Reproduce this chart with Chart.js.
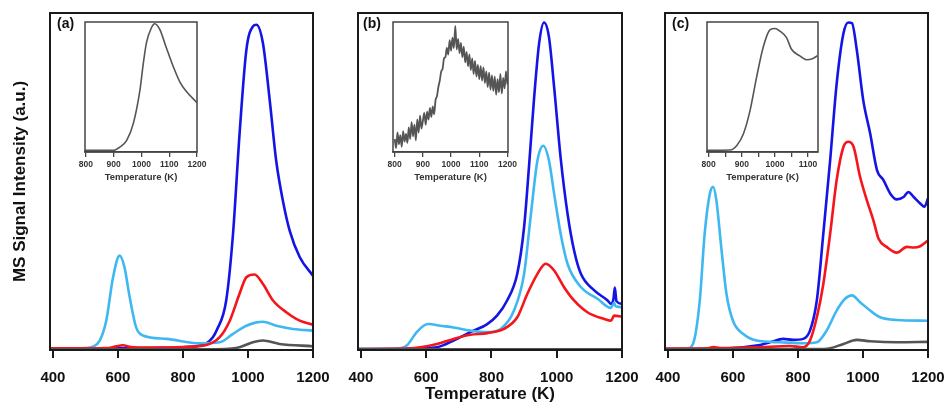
<!DOCTYPE html>
<html>
<head>
<meta charset="utf-8">
<script src="https://cdn.jsdelivr.net/npm/chart.js@4.4.1/dist/chart.umd.min.js"></script>
<style>
  body { margin: 0; background: #fff; }
  #wrap { position: relative; width: 945px; height: 405px; overflow: hidden; }
  canvas { position: absolute; left: 0; top: 0; }
  .tag { position: absolute; top: 15px; font: bold 14px "Liberation Sans", Arial, sans-serif; color: #111; }
</style>
</head>
<body>
<div id="wrap">
  <canvas id="mainA" width="945" height="405"></canvas>
  <canvas id="mainB" width="945" height="405"></canvas>
  <canvas id="mainC" width="945" height="405"></canvas>
  <canvas id="insetA" width="945" height="405"></canvas>
  <canvas id="insetB" width="945" height="405"></canvas>
  <canvas id="insetC" width="945" height="405"></canvas>
  <div class="tag" style="left:57px">(a)</div>
  <div class="tag" style="left:363px">(b)</div>
  <div class="tag" style="left:672px">(c)</div>
</div>
<script>
// tick labels
const mainTicks = [400, 600, 800, 1000, 1200];
const insetTicksAB = [800, 900, 1000, 1100, 1200];
const insetTicksC = [800, 850, 900, 950, 1000, 1050, 1100];

// panel (a)  [temperature K, signal a.u.]
const aGray = [[391,0.2],[900,0.2],[950,0.4],[974,0.8],[1015,2.3],[1046,2.8],[1097,1.8],[1200,1.1]];
const aRed = [[391,0.5],[570,0.6],[595,1.1],[615,1.4],[640,0.9],[700,0.7],[800,0.9],[872,1.5],[913,3.8],[944,8.7],[974,16.7],[995,21.6],[1020,22.4],[1046,19.6],[1077,14.7],[1118,11.2],[1159,8.7],[1200,7.5]];
const aLight = [[391,0.5],[500,0.6],[523,1.0],[544,2.8],[564,8.7],[585,21.6],[605,28],[620,24.6],[636,15.7],[656,6.7],[677,4.3],[749,3.3],[851,2.0],[913,2.3],[954,4.8],[995,7.2],[1026,8.2],[1046,8.4],[1087,7.2],[1138,6.25],[1200,5.75]];
const aBlue = [[391,0.4],[600,0.5],[700,0.6],[800,0.8],[851,1.3],[872,2],[892,3.8],[903,5.7],[933,14.7],[954,34.5],[974,64],[995,89],[1015,96],[1026,96.5],[1046,91],[1067,74],[1087,56],[1108,44],[1128,35.5],[1159,27.6],[1200,22]];
const aInset = [[797,1.3],[899,1.3],[923,3.9],[947,9],[971,22],[995,48],[1007,68.5],[1018,84],[1036,95.6],[1048,98.7],[1066,94.3],[1090,80],[1114,66],[1138,54],[1162,46.5],[1200,38]];

// panel (b)
const bGray = [[391,0.2],[1200,0.2]];
const bRed = [[391,0.3],[530,0.4],[582,0.8],[633,1.8],[684,3.3],[735,4.5],[787,5],[838,6.25],[879,9.7],[910,16.7],[941,22.6],[966,25.6],[992,23.6],[1022,18.7],[1053,14.7],[1094,11.2],[1146,9.2],[1166,8.7],[1176,10.2],[1200,9.9]];
const bLight = [[391,0.3],[510,0.4],[540,1.3],[571,5.3],[592,7.2],[607,7.7],[643,7.2],[684,6.7],[735,5.75],[787,5.3],[828,6.25],[869,11.7],[900,22.6],[920,39.5],[941,56.3],[959,60.6],[976,56.3],[992,46.4],[1012,34.5],[1033,25.6],[1074,18.7],[1125,15.2],[1166,12.5],[1176,14],[1180,13],[1200,12.7]];
const bBlue = [[391,0.3],[530,0.3],[582,0.5],[633,0.8],[684,2.8],[735,5.3],[787,7.7],[817,10.2],[848,14.7],[879,22.6],[900,36.5],[915,54.4],[930,74],[946,91],[961,97.2],[976,93],[992,78],[1012,57],[1033,40.5],[1053,29.6],[1074,22.6],[1115,17.7],[1156,14.7],[1166,13.7],[1174,15.2],[1178,18.5],[1183,14.5],[1200,13.7]];
const bInsetT = [800,805,810,815,820,825,830,835,840,845,850,855,860,865,870,875,880,885,890,895,900,905,910,915,920,925,930,935,940,945,950,955,960,965,970,975,980,985,990,995,1000,1005,1010,1015,1020,1025,1030,1035,1040,1045,1050,1055,1060,1065,1070,1075,1080,1085,1090,1095,1100,1105,1110,1115,1120,1125,1130,1135,1140,1145,1150,1155,1160,1165,1170,1175,1180,1185,1190,1195,1200];
const bInsetY = [10,3,15,6,13,4,16,8,14,7,19,10,23,12,21,9,25,15,28,18,24,30,21,31,25,34,27,35,29,40,43,50,55,62,64,72,73,80,75,86,78,88,80,97,79,87,76,84,73,81,69,77,66,75,63,72,60,70,58,67,56,66,55,65,53,62,50,61,48,59,47,58,44,56,46,60,45,57,49,62,52];

// panel (c)
const cGray = [[391,0.2],[880,0.3],[899,0.5],[940,1.8],[981,3.0],[1022,2.6],[1104,2.3],[1200,2.4]];
const cRed = [[391,0.4],[520,0.5],[540,0.9],[560,0.6],[672,0.8],[775,1.2],[816,0.8],[837,2.8],[858,9.7],[878,19.6],[899,34.5],[919,50.4],[940,60.3],[955,61.8],[971,60.3],[991,51.4],[1012,44.4],[1032,38.5],[1048,33],[1073,30.6],[1104,28.9],[1135,30.6],[1156,30.4],[1176,30.8],[1200,32.5]];
const cLight = [[391,0.3],[457,0.4],[477,1.8],[498,14.7],[513,34.5],[529,46.4],[539,48.4],[549,44.4],[565,29.6],[580,16.7],[600,8.7],[631,4.8],[673,2.8],[744,2.3],[816,2.0],[858,2.3],[888,5.75],[919,11.7],[945,15.2],[966,16.2],[991,14.2],[1022,11.7],[1053,9.7],[1104,8.9],[1200,8.7]];
const cBlue = [[391,0.3],[590,0.5],[672,1.3],[714,2.3],[755,3.3],[785,3.0],[816,3.3],[837,5.75],[858,14.7],[878,34.5],[899,56.3],[919,79],[940,94],[955,97.2],[966,97],[981,89],[1001,74],[1022,64.3],[1043,53.4],[1063,50.4],[1084,46.4],[1104,44.7],[1125,45.4],[1140,46.9],[1156,45.4],[1176,43.5],[1189,42.5],[1200,45]];
const cInset = [[795,1.3],[865,1.5],[885,5],[905,14],[925,32],[945,58],[965,81],[985,94],[1000,95],[1015,93],[1035,88],[1050,79],[1075,74],[1095,71],[1115,72],[1128,74]];

const GRAY = '#555555', RED = '#f5151a', LIGHT = '#3fb8f2', BLUE = '#1414e6';
const FONT = '"Liberation Sans", Arial, sans-serif';

function pts(arr) {
    return arr.map(p => ({ x: p[0], y: p[1] }));
}

// white box under the plot area and a frame over it
const framePlugin = {
    id: 'frame',
    beforeDraw(chart, args, opts) {
        if (!opts.fill) return;
        const a = chart.chartArea;
        chart.ctx.save();
        chart.ctx.fillStyle = '#fff';
        chart.ctx.fillRect(a.left, a.top, a.right - a.left, a.bottom - a.top);
        chart.ctx.restore();
    },
    afterDatasetsDraw(chart, args, opts) {
        const a = chart.chartArea;
        const ctx = chart.ctx;
        ctx.save();
        ctx.strokeStyle = opts.color;
        ctx.lineWidth = opts.width;
        ctx.strokeRect(a.left, a.top, a.right - a.left, a.bottom - a.top);
        ctx.restore();
    }
};

function line(data, color, width) {
    return {
        data: pts(data), borderColor: color, borderWidth: width,
        pointRadius: 0, fill: false, cubicInterpolationMode: 'monotone'
    };
}

// keep the plot box where it is, whatever the edge labels need
function fixHeight(h) {
    return s => {
        s.height = h;
        s.paddingLeft = 0;
        s.paddingRight = 0;
    };
}

function makeMain(id, left, right, sets, withY, withTitle) {
    new Chart(document.getElementById(id), {
        type: 'line',
        data: { datasets: sets.map(s => line(s[0], s[1], 2.6)) },
        options: {
            responsive: false, animation: false, devicePixelRatio: 1,
            layout: { padding: { left: withY ? 0 : left, right: 945 - right, top: 13, bottom: 0 }, autoPadding: false },
            plugins: { legend: { display: false }, tooltip: { enabled: false },
                frame: { color: '#1a1a1a', width: 2, fill: false } },
            scales: {
                x: {
                    type: 'linear', min: 391, max: 1200,
                    afterBuildTicks: s => { s.ticks = mainTicks.map(v => ({ value: v })); },
                    afterFit: fixHeight(55),
                    ticks: { color: '#111', padding: 11, maxRotation: 0, callback: v => String(v),
                        font: { family: FONT, size: 15, weight: 'bold' } },
                    grid: { drawOnChartArea: false, drawTicks: true, tickLength: 8, color: '#1a1a1a', lineWidth: 2 },
                    border: { display: true, color: '#1a1a1a', width: 2 },
                    title: { display: withTitle, text: 'Temperature (K)', color: '#111', padding: 0,
                        font: { family: FONT, size: 17, weight: 'bold' } }
                },
                y: {
                    display: withY, min: 0, max: 100,
                    afterFit: s => { s.width = withY ? left : 0; },
                    ticks: { display: false },
                    grid: { display: false },
                    border: { display: false },
                    title: { display: withY, text: 'MS Signal Intensity (a.u.)', color: '#111', padding: { top: 10, bottom: 0 },
                        font: { family: FONT, size: 17, weight: 'bold' } }
                }
            }
        },
        plugins: [framePlugin]
    });
}

function makeInset(id, left, right, xmin, xmax, ticks, data, width) {
    new Chart(document.getElementById(id), {
        type: 'line',
        data: { datasets: [line(data, GRAY, width)] },
        options: {
            responsive: false, animation: false, devicePixelRatio: 1,
            layout: { padding: { left: left, right: 945 - right, top: 22, bottom: 405 - 183 }, autoPadding: false },
            plugins: { legend: { display: false }, tooltip: { enabled: false },
                frame: { color: '#444', width: 1.5, fill: true } },
            scales: {
                x: {
                    type: 'linear', min: xmin, max: xmax,
                    afterBuildTicks: s => { s.ticks = ticks.map(v => ({ value: v })); },
                    afterFit: fixHeight(31),
                    ticks: { color: '#333', padding: 3, maxRotation: 0, autoSkip: false,
                        callback: v => (v % 100 === 0 ? String(v) : ''),
                        font: { family: FONT, size: 8.5, weight: 'bold' } },
                    grid: { drawOnChartArea: false, drawTicks: true, tickLength: 5, color: '#444', lineWidth: 1.3 },
                    border: { display: true, color: '#444', width: 1.5 },
                    title: { display: true, text: 'Temperature (K)', color: '#333', padding: 0,
                        font: { family: FONT, size: 9.5, weight: 'bold' } }
                },
                y: { display: false, min: 0, max: 100 }
            }
        },
        plugins: [framePlugin]
    });
}

makeMain('mainA', 50, 313, [[aGray, GRAY], [aRed, RED], [aLight, LIGHT], [aBlue, BLUE]], true, false);
makeMain('mainB', 358, 622, [[bGray, GRAY], [bRed, RED], [bLight, LIGHT], [bBlue, BLUE]], false, true);
makeMain('mainC', 665, 928, [[cGray, GRAY], [cRed, RED], [cLight, LIGHT], [cBlue, BLUE]], false, false);

makeInset('insetA', 85, 197, 797, 1200, insetTicksAB, aInset, 1.6);
makeInset('insetB', 393, 508, 794, 1202, insetTicksAB, bInsetT.map((t, i) => [t, bInsetY[i]]), 1.8);
makeInset('insetC', 707, 818, 795, 1130, insetTicksC, cInset, 1.6);
</script>
</body>
</html>
